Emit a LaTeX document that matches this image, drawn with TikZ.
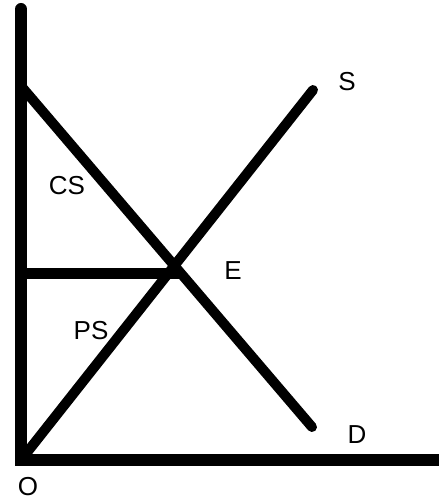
\documentclass[tikz,border=0pt]{standalone}
\usepackage{fontspec}
\setmainfont{Liberation Sans}
\usetikzlibrary{positioning, calc}

\begin{document}
\begin{tikzpicture}[
            x=1pt, y=-1pt,
            axisline/.style={line width=12pt, line cap=round},
            curveline/.style={line width=10pt, line cap=round},
            lbl/.style={font=\fontsize{26}{28}\selectfont, inner sep=0pt}
        ]
            \useasboundingbox (0,0) rectangle (438,502);

            % 座標
            \coordinate (origin) at (21,460);
            \coordinate (ytop) at (21,9);
            \coordinate (xend) at (445,460);
            \coordinate (dtop) at (21,86);
            \coordinate (dend) at (312,427);
            \coordinate (send) at (313,90);
            \coordinate (pleft) at (16,273);
            \coordinate (pright) at (181,273);

            % 軸
            \draw[axisline] (xend) -- (origin) -- (ytop);

            % 需要・供給
            \draw[curveline] (dtop) -- (dend);
            \draw[curveline] (origin) -- (send);
            \draw[curveline, line width=11pt, line cap=butt] (pleft) -- (pright);

            % ラベル
            \node[lbl] (slabel) at (347,82) {S};
            \node[lbl] (dlabel) at (357,435) {D};
            \node[lbl] (elabel) at (233,271) {E};
            \node[lbl] (cslabel) at (67,186) {CS};
            \node[lbl] (pslabel) at (91,331) {PS};
            \node[lbl] (olabel) at (28,487) {O};
          \end{tikzpicture}
\end{document}
